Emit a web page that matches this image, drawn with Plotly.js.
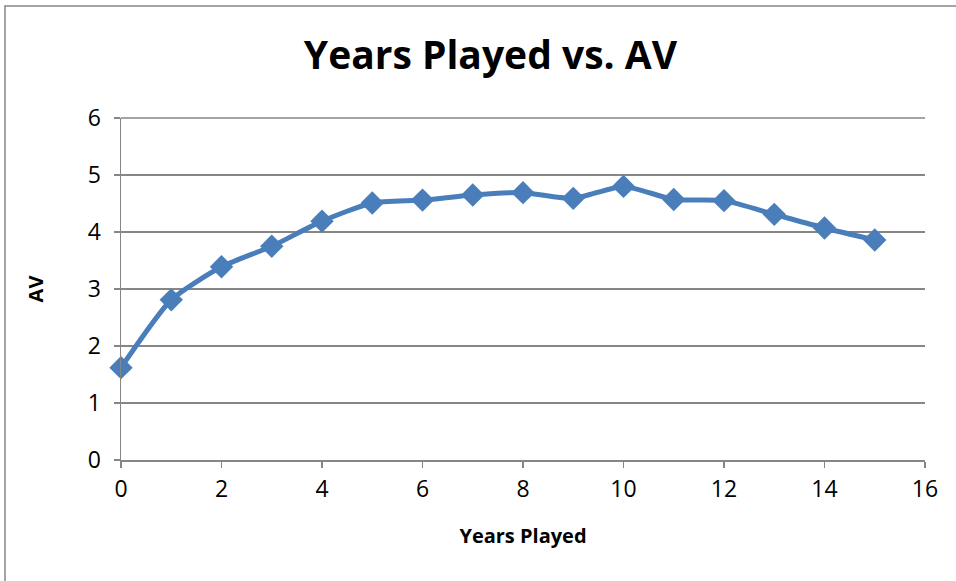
<!DOCTYPE html>
<html>
<head>
<meta charset="utf-8">
<script src="https://cdn.plot.ly/plotly-3.0.1.min.js"></script>
<style>html,body{margin:0;padding:0;background:#fff;}#chart{width:956px;height:581px;}</style>
</head>
<body>
<div id="chart"></div>
<script>
const yearsPlayed = [0,1,2,3,4,5,6,7,8,9,10,11,12,13,14,15];
const avValues = [1.62,2.81,3.39,3.75,4.19,4.51,4.56,4.65,4.69,4.59,4.80,4.57,4.55,4.31,4.07,3.86];
const chartTitle = "Years Played vs. AV";
const xTitle = "Years Played";
const yTitle = "AV";

const trace = {
  x: yearsPlayed, y: avValues, type: 'scatter', mode: 'lines+markers',
  line: {color: '#4A7EBB', width: 5, shape: 'spline', smoothing: 0.6},
  marker: {symbol: 'diamond', size: 18, color: '#4A7EBB'},
  cliponaxis: false, hoverinfo: 'none'
};
const font = "Open Sans, Liberation Sans, sans-serif";
const layout = {
  width: 956, height: 581,
  margin: {l: 121, r: 31, t: 118, b: 121},
  paper_bgcolor: '#fff', plot_bgcolor: '#fff',
  showlegend: false,
  font: {family: font, color: '#000'},
  title: {text: '<b>' + chartTitle + '</b>', font: {size: 39, family: font, color: '#000'}, x: 0.513, xanchor: 'center', y: 0.905, yanchor: 'middle'},
  xaxis: {
    range: [0, 16], dtick: 2, tick0: 0, showgrid: false, zeroline: false,
    showline: true, linecolor: '#868686', linewidth: 1.5,
    ticks: 'outside', ticklen: 6, tickcolor: '#868686', tickwidth: 1.5,
    tickfont: {size: 23, family: font}, fixedrange: true, ticklabelstandoff: 2,
    title: {text: '<b>' + xTitle + '</b>', font: {size: 20, family: font}, standoff: 26}
  },
  yaxis: {
    range: [0, 6], dtick: 1, tick0: 0, showgrid: true, gridcolor: '#868686', gridwidth: 1.5,
    zeroline: false, showline: true, linecolor: '#868686', linewidth: 1.5,
    ticks: 'outside', ticklen: 6, tickcolor: '#868686', tickwidth: 1.5,
    tickfont: {size: 23, family: font}, fixedrange: true, ticklabelstandoff: 8,
    title: {text: '<b>' + yTitle + '</b>', font: {size: 20, family: font}, standoff: 38}
  },
  shapes: [
    {type: 'rect', xref: 'paper', yref: 'paper',
     x0: -116/804, x1: 840/804, y0: (121 - 600) / 342, y1: 1 + (118 - 6) / 342,
     line: {color: '#868686', width: 1.5}, fillcolor: 'rgba(0,0,0,0)', layer: 'below'},
    {type: 'line', xref: 'paper', yref: 'paper', x0: 0, x1: 1, y0: 1, y1: 1,
     line: {color: '#868686', width: 1.5}, layer: 'below'}
  ]
};
Plotly.newPlot('chart', [trace], layout, {displayModeBar: false, staticPlot: true});
</script>
</body>
</html>
